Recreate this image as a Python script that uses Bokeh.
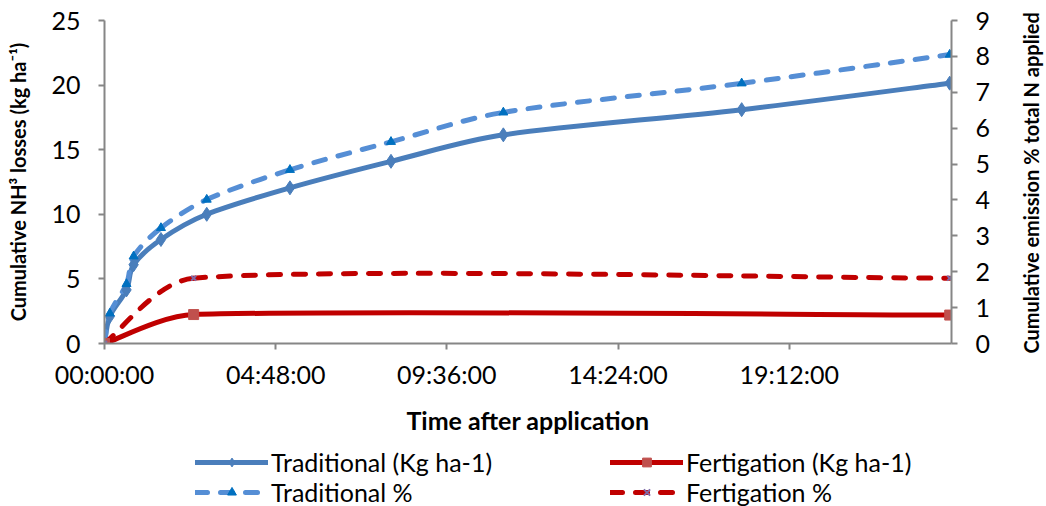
import math
from bokeh.plotting import figure
from bokeh.models import (Range1d, LinearAxis, FixedTicker, Legend, LegendItem,
                          ColumnDataSource)
from bokeh.layouts import column, row
from bokeh.embed import file_html
from bokeh.resources import INLINE

# ---------------- data ----------------
trad_minutes = [0, 9, 37, 49, 95, 172, 312, 482, 671, 1072, 1422]
trad_kg = [0, 2.1, 4.15, 6.1, 8.05, 10.0, 12.05, 14.1, 16.15, 18.1, 20.15]
trad_pct = [0, 0.84, 1.66, 2.43, 3.22, 4.01, 4.84, 5.62, 6.44, 7.25, 8.05]
fert_minutes = [0, 150, 1422]
fert_kg = [0, 2.24, 2.2]
fert_pct = [0, 1.82, 1.82]

x_ticks = [0, 288, 576, 864, 1152]
x_tick_labels = ["00:00:00", "04:48:00", "09:36:00", "14:24:00", "19:12:00"]
left_ticks = [0, 5, 10, 15, 20, 25]
right_ticks = [0, 1, 2, 3, 4, 5, 6, 7, 8, 9]

labels = ["Traditional (Kg ha-1)", "Traditional %",
          "Fertigation (Kg ha-1)", "Fertigation %"]

# ---------------- layout ----------------
W = 1046
RT_W = 40
MAIN_W = W - RT_W
FW, FH = 847, 323
LEFT, TOP = 104, 20
X_END = 1425
Y_LEFT = 25
Y_RIGHT = 9
MAIN_H = 434
BOTTOM = MAIN_H - TOP - FH
LG_H = 506 - MAIN_H

p = figure(width=MAIN_W, height=MAIN_H, frame_width=FW, frame_height=FH,
           x_range=Range1d(0, X_END), y_range=Range1d(0, Y_LEFT),
           output_backend="svg", toolbar_location=None,
           min_border_left=LEFT, min_border_right=MAIN_W - LEFT - FW,
           min_border_top=TOP, min_border_bottom=BOTTOM)
p.extra_y_ranges = {"pct": Range1d(0, Y_RIGHT)}
p.outline_line_color = None
p.xgrid.visible = False
p.ygrid.visible = False

AX = "#868686"
FONT = "Lato"


def style_axis(ax, size):
    ax.axis_line_color = AX
    ax.axis_line_width = 2
    ax.major_tick_line_color = AX
    ax.major_tick_line_width = 2
    ax.major_tick_in = 0
    ax.major_tick_out = 6
    ax.minor_tick_line_color = None
    ax.major_label_text_font = FONT
    ax.major_label_text_font_size = size
    ax.major_label_text_color = "black"
    ax.axis_label_text_font = FONT
    ax.axis_label_text_font_style = "bold"
    ax.axis_label_text_color = "black"


xa = p.xaxis[0]
style_axis(xa, "25px")
xa.ticker = FixedTicker(ticks=x_ticks)
xa.major_label_overrides = dict(zip(x_ticks, x_tick_labels))
xa.major_label_standoff = 9
xa.axis_label = "Time after application"
xa.axis_label_text_font_size = "25px"
xa.axis_label_standoff = 13

ya = p.yaxis[0]
style_axis(ya, "25px")
ya.ticker = FixedTicker(ticks=left_ticks)
ya.major_label_standoff = 18
ya.axis_label = "Cumulative NH³ losses (kg ha⁻¹)"
ya.axis_label_text_font_size = "20px"
ya.axis_label_standoff = 18

ra = LinearAxis(y_range_name="pct", ticker=FixedTicker(ticks=right_ticks))
style_axis(ra, "25px")
ra.major_label_standoff = 18
p.add_layout(ra, "right")

sx = FW / X_END


def bezier_source(xs, ys, sy):
    """Smoothed-line segments (Excel-like) between consecutive data points."""
    P = [(x * sx, y * sy) for x, y in zip(xs, ys)]
    n = len(P)
    tang = []
    for i in range(n):
        a = P[max(i - 1, 0)]
        b = P[min(i + 1, n - 1)]
        dx, dy = b[0] - a[0], b[1] - a[1]
        L = math.hypot(dx, dy) or 1.0
        tang.append((dx / L, dy / L, L))
    d = dict(x0=[], y0=[], x1=[], y1=[], cx0=[], cy0=[], cx1=[], cy1=[])
    for i in range(n - 1):
        seg = math.hypot(P[i + 1][0] - P[i][0], P[i + 1][1] - P[i][1])
        tx0, ty0, L0 = tang[i]
        tx1, ty1, L1 = tang[i + 1]
        l0 = min(seg / 3, L0 / 6)
        l1 = min(seg / 3, L1 / 6)
        d["x0"].append(xs[i]); d["y0"].append(ys[i])
        d["x1"].append(xs[i + 1]); d["y1"].append(ys[i + 1])
        d["cx0"].append((P[i][0] + tx0 * l0) / sx)
        d["cy0"].append((P[i][1] + ty0 * l0) / sy)
        d["cx1"].append((P[i + 1][0] - tx1 * l1) / sx)
        d["cy1"].append((P[i + 1][1] - ty1 * l1) / sy)
    return ColumnDataSource(d)


sy_left = FH / Y_LEFT
sy_right = FH / Y_RIGHT

DASH = "12 13"
styles = [
    # color, dash, marker, msize, marker color
    ("#4A7EBB", "solid", "diamond", 14, "#4A7EBB"),
    ("#558ED5", DASH, "triangle", 9, "#0070C0"),
    ("#C00000", "solid", "square", 10, "#C0504D"),
    ("#C00000", DASH, "x", 7, "#7F6AA8"),
]
series = [
    (trad_minutes, trad_kg, sy_left, "default"),
    (trad_minutes, trad_pct, sy_right, "pct"),
    (fert_minutes, fert_kg, sy_left, "default"),
    (fert_minutes, fert_pct, sy_right, "pct"),
]


def add_marks(fig, xs, ys, st, **kw):
    col, dash, mk, ms, mc = st
    if mk == "x":
        return fig.scatter(x=xs, y=ys, marker=mk, size=ms, line_color=mc,
                           line_width=2, **kw)
    return fig.scatter(x=xs, y=ys, marker=mk, size=ms, fill_color=mc,
                       line_color=mc, **kw)


for (xs, ys, sy, rng), st in zip(series, styles):
    col, dash = st[0], st[1]
    src = bezier_source(xs, ys, sy)
    p.bezier(x0="x0", y0="y0", x1="x1", y1="y1", cx0="cx0", cy0="cy0",
             cx1="cx1", cy1="cy1", source=src, line_color=col, line_width=5,
             line_dash=dash, line_cap="round", y_range_name=rng)
for (xs, ys, sy, rng), st in zip(series, styles):
    add_marks(p, xs, ys, st, y_range_name=rng)

# ---------- right-hand title strip (label of a bare left axis -> reads upward) ----------
rt = figure(width=RT_W, height=MAIN_H, x_range=Range1d(0, 1),
            y_range=Range1d(0, Y_RIGHT), output_backend="svg",
            toolbar_location=None, min_border_left=RT_W - 2,
            min_border_right=0, min_border_top=TOP, min_border_bottom=BOTTOM,
            x_axis_type=None)
rt.outline_line_color = None
rt.grid.visible = False
ta = rt.yaxis[0]
ta.ticker = FixedTicker(ticks=[])
ta.axis_line_color = None
ta.major_tick_line_color = None
ta.minor_tick_line_color = None
ta.axis_label = "Cumulative emission  % total N applied"
ta.axis_label_text_font = FONT
ta.axis_label_text_font_style = "bold"
ta.axis_label_text_font_size = "20px"
ta.axis_label_text_color = "black"
ta.axis_label_standoff = 2

# ---------- legend strip (series drawn off-view, only their key shows) ----------
lg = figure(width=W, height=LG_H, frame_width=FW, frame_height=LG_H,
            x_range=Range1d(-3, -2), y_range=Range1d(-3, -2),
            output_backend="svg", toolbar_location=None,
            min_border_left=LEFT, min_border_right=W - LEFT - FW,
            min_border_top=0, min_border_bottom=0,
            x_axis_type=None, y_axis_type=None)
lg.outline_line_color = None
lg.grid.visible = False

items = []
for lab, (xs, ys, sy, rng), st in zip(labels, series, styles):
    col, dash = st[0], st[1]
    lr = lg.line(x=xs, y=ys, line_color=col, line_width=5, line_dash=dash,
                 line_cap="round")
    sr = add_marks(lg, xs, ys, st)
    items.append(LegendItem(label=lab, renderers=[lr, sr]))


def make_legend(its, loc):
    return Legend(items=its, location=loc, orientation="vertical",
                  glyph_width=73, glyph_height=22, label_height=22, spacing=-4,
                  padding=0, margin=0, label_standoff=3,
                  border_line_alpha=0, background_fill_alpha=0,
                  label_text_font=FONT, label_text_font_size="25px",
                  label_text_color="black")


lg.add_layout(make_legend([items[0], items[1]], (195 - LEFT, 2)))
lg.add_layout(make_legend([items[2], items[3]], (610 - LEFT, 2)))

layout = column(row(p, rt), lg)
open("out.html", "w").write(file_html(layout, INLINE))
